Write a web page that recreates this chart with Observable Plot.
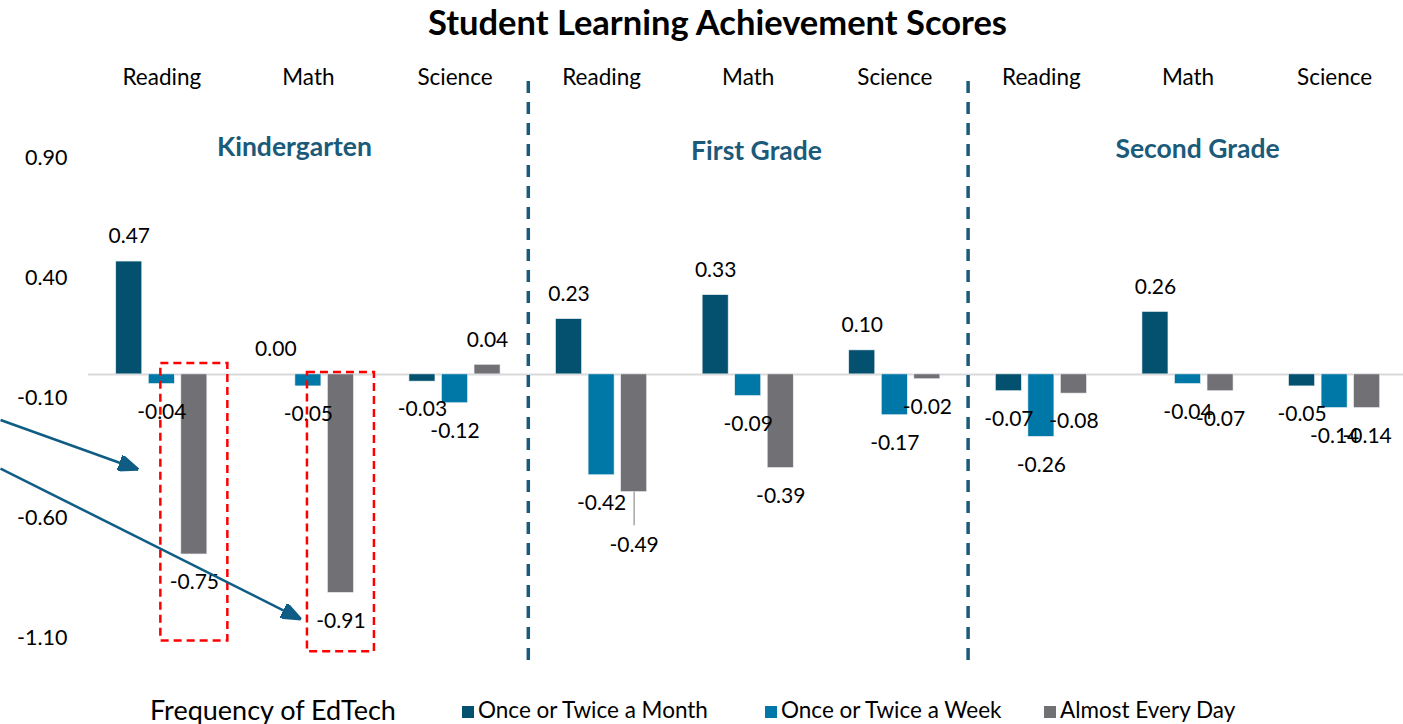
<!DOCTYPE html>
<html><head><meta charset="utf-8">
<script src="https://cdn.jsdelivr.net/npm/d3@7"></script>
<script src="https://cdn.jsdelivr.net/npm/@observablehq/plot@0.6"></script>
<style>
html,body{margin:0;padding:0;background:#fff;overflow:hidden;}
body{width:1403px;height:724px;font-family:Lato,"Open Sans",sans-serif;color:#000;}
#title{height:44px;line-height:44px;text-align:center;font-weight:700;font-size:34.5px;padding-left:32px;}
#chart{height:640px;}
#legend{position:relative;height:28px;margin-top:12px;font-size:22.5px;line-height:28px;}
#legend span{position:absolute;top:0;white-space:nowrap;}
#legend i{display:inline-block;width:12px;height:12px;margin-right:4px;vertical-align:0px;}
</style></head><body>
<div id="title"></div>
<div id="chart"></div>
<div id="legend"></div>
<script>
const title = "Student Learning Achievement Scores";
const grades = ["Kindergarten", "First Grade", "Second Grade"];
const subjects = ["Reading", "Math", "Science"];
const frequencies = ["Once or Twice a Month", "Once or Twice a Week", "Almost Every Day"];
const legendTitle = "Frequency of EdTech";
// values per grade×subject (K Reading, K Math, K Science, 1st Reading, ... 2nd Science)
const monthValues = [0.47, 0.00, -0.03, 0.23, 0.33, 0.10, -0.07, 0.26, -0.05];
const weekValues  = [-0.04, -0.05, -0.12, -0.42, -0.09, -0.17, -0.26, -0.04, -0.14];
const dailyValues = [-0.75, -0.91, 0.04, -0.49, -0.39, -0.02, -0.08, -0.07, -0.14];
const yTicks = [0.90, 0.40, -0.10, -0.60, -1.10];
const colors = ["#03506f", "#0078a7", "#717075"];
// annotations (in data units: x = group index, y = score)
const gradeLabelAt = [{x: 0.905, y: 0.946}, {x: 4.057, y: 0.929}, {x: 7.065, y: 0.9375}];
const highlights = [
  {group: 0, freq: 2, top: 0.045, bottom: -1.11},
  {group: 1, freq: 2, top: 0.008, bottom: -1.155}
];
const leaders = [{group: 3, freq: 2, end: -0.63}];
const arrows = [
  {x1: -1.1, y1: -0.19, x2: -0.16, y2: -0.396},
  {x1: -1.1, y1: -0.392, x2: 0.95, y2: -1.02}
];

const series = [monthValues, weekValues, dailyValues];
const data = [];
grades.forEach((g, gi) => subjects.forEach((s, si) => frequencies.forEach((f, fi) => {
  const group = gi * 3 + si;
  data.push({grade: g, subject: s, freq: f, fi, group, value: series[fi][group]});
})));
const step = 0.222, half = 0.0887, boxHalf = 0.2285;
const pos = d => d.group + (d.fi - 1) * step;
const leaderOf = d => leaders.find(l => l.group === d.group && l.freq === d.fi);
const fmt = v => v.toFixed(2);
const groups = d3.range(9);

const arrowHead = (color, context) => {
  const doc = context.document;
  const m = doc.createElementNS("http://www.w3.org/2000/svg", "marker");
  m.setAttribute("viewBox", "-20 -8 20 16");
  m.setAttribute("markerWidth", "20");
  m.setAttribute("markerHeight", "16");
  m.setAttribute("markerUnits", "userSpaceOnUse");
  m.setAttribute("refX", "0");
  m.setAttribute("refY", "0");
  m.setAttribute("orient", "auto");
  const p = doc.createElementNS("http://www.w3.org/2000/svg", "path");
  p.setAttribute("d", "M-20,-8L0,0L-20,8Z");
  p.setAttribute("fill", color);
  m.appendChild(p);
  return m;
};

document.getElementById("title").textContent = title;

const chart = Plot.plot({
  width: 1403,
  height: 640,
  marginLeft: 88,
  marginRight: 0,
  marginTop: 37,
  marginBottom: 16,
  style: {fontFamily: "Lato, 'Open Sans', sans-serif", fontSize: "21.5px", color: "#000", background: "#fff", overflow: "visible"},
  x: {domain: [-0.5, 8.47], axis: null},
  y: {domain: [-1.225, 1.22], ticks: yTicks, tickFormat: fmt, tickSize: 0, tickPadding: 21, label: null},
  color: {domain: frequencies, range: colors},
  marks: [
    Plot.ruleY([0], {stroke: "#d9d9d9", strokeWidth: 2}),
    Plot.rect(data, {x1: d => pos(d) - half, x2: d => pos(d) + half, y1: 0, y2: "value", fill: "freq", stroke: "#e8eef2", strokeWidth: 0.6}),
    Plot.ruleX(leaders, {x: d => d.group + (d.freq - 1) * step, y1: d => dailyValues[d.group], y2: "end", stroke: "#a6a6a6", strokeWidth: 1.5}),
    Plot.text(data.filter(d => d.value >= 0), {x: pos, y: "value", text: d => fmt(d.value), dy: -25, fontSize: 21}),
    Plot.text(data.filter(d => d.value < 0 && !leaderOf(d)), {x: pos, y: "value", text: d => fmt(d.value), dy: 28, fontSize: 21}),
    Plot.text(data.filter(d => leaderOf(d)), {x: pos, y: d => leaderOf(d).end, text: d => fmt(d.value), dy: 20, fontSize: 21}),
    Plot.ruleX([2.5, 5.5], {stroke: "#1b5b79", strokeWidth: 3.5, strokeDasharray: "12,9"}),
    Plot.text(groups, {x: d => d, text: d => subjects[d % 3], frameAnchor: "top", lineAnchor: "middle", dy: -4, fontSize: 22.5}),
    Plot.text(grades, {x: (d, i) => gradeLabelAt[i].x, y: (d, i) => gradeLabelAt[i].y, text: d => d, lineAnchor: "middle", fontSize: 26.5, fontWeight: "bold", fill: "#1b5b79"}),
    Plot.rect(highlights, {x1: d => d.group + (d.freq - 1) * step - boxHalf, x2: d => d.group + (d.freq - 1) * step + boxHalf, y1: "top", y2: "bottom", fill: "none", stroke: "#ff0000", strokeWidth: 2.5, strokeDasharray: "8,5"}),
    Plot.link(arrows, {x1: "x1", y1: "y1", x2: "x2", y2: "y2", stroke: "#0f5d84", strokeWidth: 2.5, markerEnd: arrowHead})
  ]
});
document.getElementById("chart").appendChild(chart);

const legend = document.getElementById("legend");
const lt = document.createElement("span");
lt.style.left = "150px";
lt.style.fontSize = "27px";
lt.textContent = legendTitle;
legend.appendChild(lt);
const lefts = [462, 765, 1044];
frequencies.forEach((f, i) => {
  const s = document.createElement("span");
  s.style.left = lefts[i] + "px";
  s.innerHTML = `<i style="background:${colors[i]}"></i>`;
  s.appendChild(document.createTextNode(f));
  legend.appendChild(s);
});
</script>
</body></html>
